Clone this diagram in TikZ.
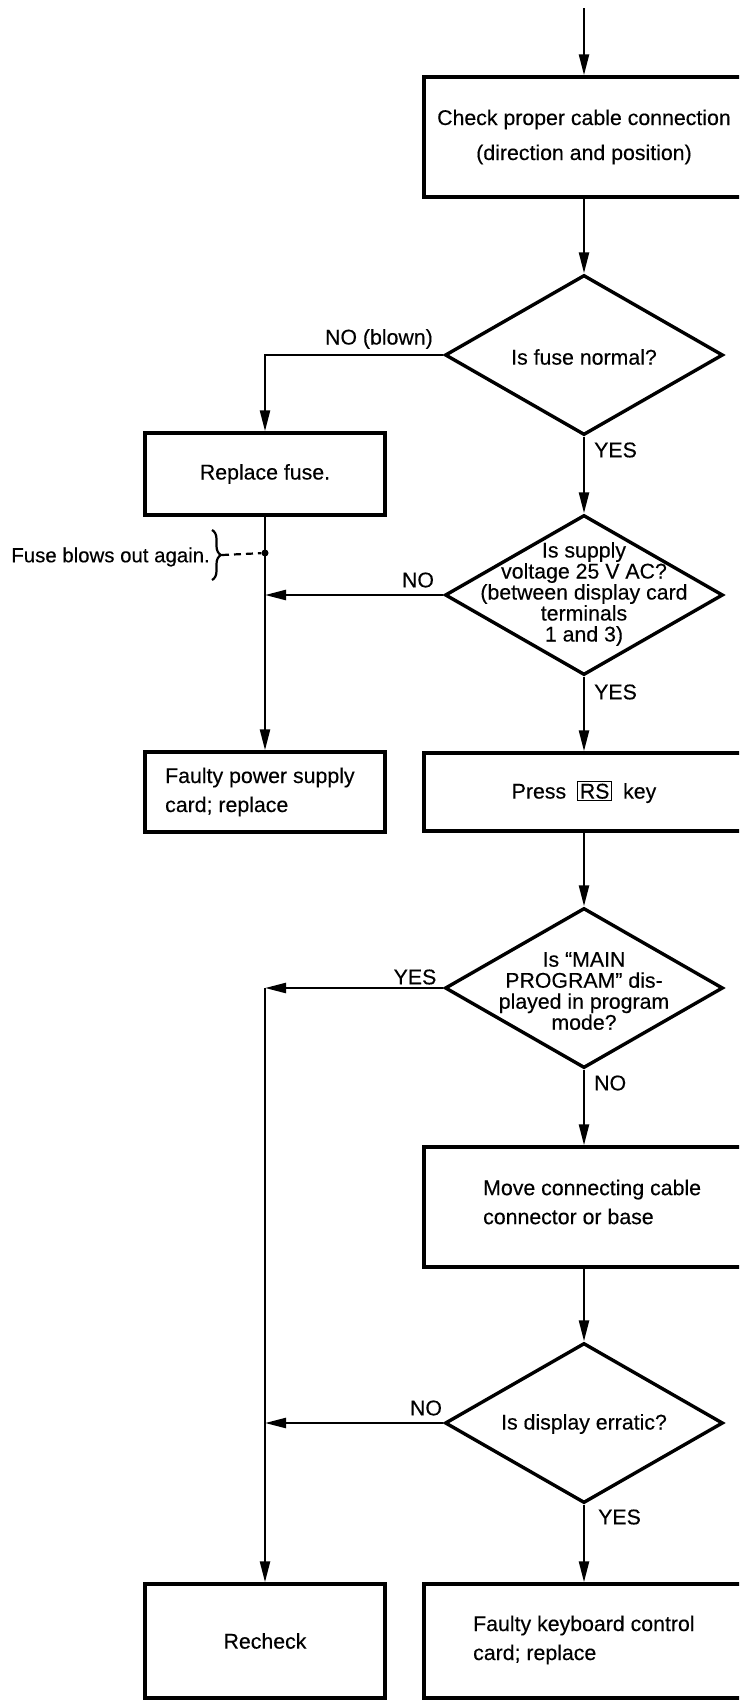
\documentclass[tikz,border=0pt]{standalone}
\usepackage{fontspec}
\setmainfont{Liberation Sans}
\newfontfamily\flowfont{Liberation Sans}[FakeBold=0.3]
\usetikzlibrary{shapes.geometric, arrows.meta, decorations.pathreplacing}

\begin{document}
\begin{tikzpicture}[x=1pt, y=-1pt,
  every node/.style={font=\flowfont\fontsize{21.3}{21}\selectfont, inner sep=0pt},
  box/.style={draw, rectangle, line width=3.4pt, align=center},
  rbox/.style={box, minimum width=320pt},
  lbox/.style={box, minimum width=240pt},
  decision/.style={draw, diamond, line width=3.4pt, minimum width=278pt, minimum height=160pt},
  qtext/.style={align=center},
  btext/.style={align=left, anchor=west},
  arr/.style={line width=2.4pt, -{Triangle[length=21pt,width=10pt]}},
  link/.style={line width=2.4pt},
]
\path[use as bounding box] (0,0) rectangle (739,1700);
\fill[white] (0,0) rectangle (739,1700);
\clip (0,0) rectangle (739,1700);

% main column
\coordinate (top) at (584,8);
\node[rbox, minimum height=120pt] (b1) at (584,137)
  {Check proper cable connection\\[14pt](direction and position)};
\node[decision] (d1) at (584,355) {};
\node[qtext] (d1t) at (584,357) {Is fuse normal?};
\node[decision] (d2) at (584,595) {};
\node[qtext] (d2t) at (584,594)
  {Is supply\\voltage 25 V AC?\\(between display card\\terminals\\1 and 3)};
\node[rbox, minimum height=78pt] (press) at (584,792)
  {Press\hspace{11pt}{\fboxsep=1.5pt\fboxrule=1.2pt\fbox{RS}}\hspace{11pt}key};
\node[decision] (d3) at (584,988) {};
\node[qtext] (d3t) at (584,991)
  {Is “MAIN\\PROGRAM” dis-\\played in program\\mode?};
\node[rbox, minimum height=120pt] (move) at (584,1207) {};
\node[btext] (movet) at (483,1202) {Move connecting cable\\[8pt]connector or base};
\node[decision] (d4) at (584,1423) {};
\node[qtext] (d4t) at (584,1424) {Is display erratic?};
\node[rbox, minimum height=114pt] (kb) at (584,1641) {};
\node[btext] (kbt) at (473,1640) {Faulty keyboard control\\[8pt]card; replace};

% left column
\node[lbox, minimum height=82pt] (fuse) at (265,474) {Replace fuse.};
\node[lbox, minimum height=80pt] (psu) at (265,792) {};
\node[btext] (psut) at (165,792) {Faulty power supply\\[8pt]card; replace};
\node[lbox, minimum height=114pt] (recheck) at (265,1641) {Recheck};

% branch labels
\node[anchor=east] (l1) at (433,339) {NO (blown)};
\node[anchor=west] (l2) at (594,450) {YES};
\node (l3) at (418,580) {NO};
\node[anchor=west] (l4) at (594,692) {YES};
\node (l5) at (415,977) {YES};
\node[anchor=west] (l6) at (594,1083) {NO};
\node (l7) at (426,1408) {NO};
\node[anchor=west] (l8) at (598,1517) {YES};

% main flow
\draw[arr] (top) -- (b1);
\draw[arr] (b1) -- (d1);
\draw[arr] (d1) -- (d2);
\draw[arr] (d2) -- (press);
\draw[arr] (press) -- (d3);
\draw[arr] (d3) -- (move);
\draw[arr] (move) -- (d4);
\draw[arr] (d4) -- (kb);

% fuse branch
\draw[arr] (d1.west) -| (fuse.north);
\draw[arr] (fuse) -- (psu);
\draw[arr] (d2.west) -- (d2.west -| fuse.south);

% note on the fuse line
\node[circle, fill, minimum size=7pt] (fb) at (265,553) {};
\node[anchor=east] (fbt) at (210,557) {\fontsize{20.4}{21}\selectfont Fuse blows out again.};
\draw[line width=2.2pt, decorate, decoration={brace, amplitude=9pt}] (212,530) -- (212,580);
\coordinate (brtip) at (222,555);
\draw[line width=2.2pt, dash pattern=on 7pt off 5pt] (brtip) -- (fb);

% recheck branch
\coordinate (j3) at (d3.west -| recheck.north);
\draw[arr] (d3.west) -- (j3);
\draw[arr] (j3) -- (recheck.north);
\draw[arr] (d4.west) -- (d4.west -| recheck.north);
\end{tikzpicture}
\end{document}
